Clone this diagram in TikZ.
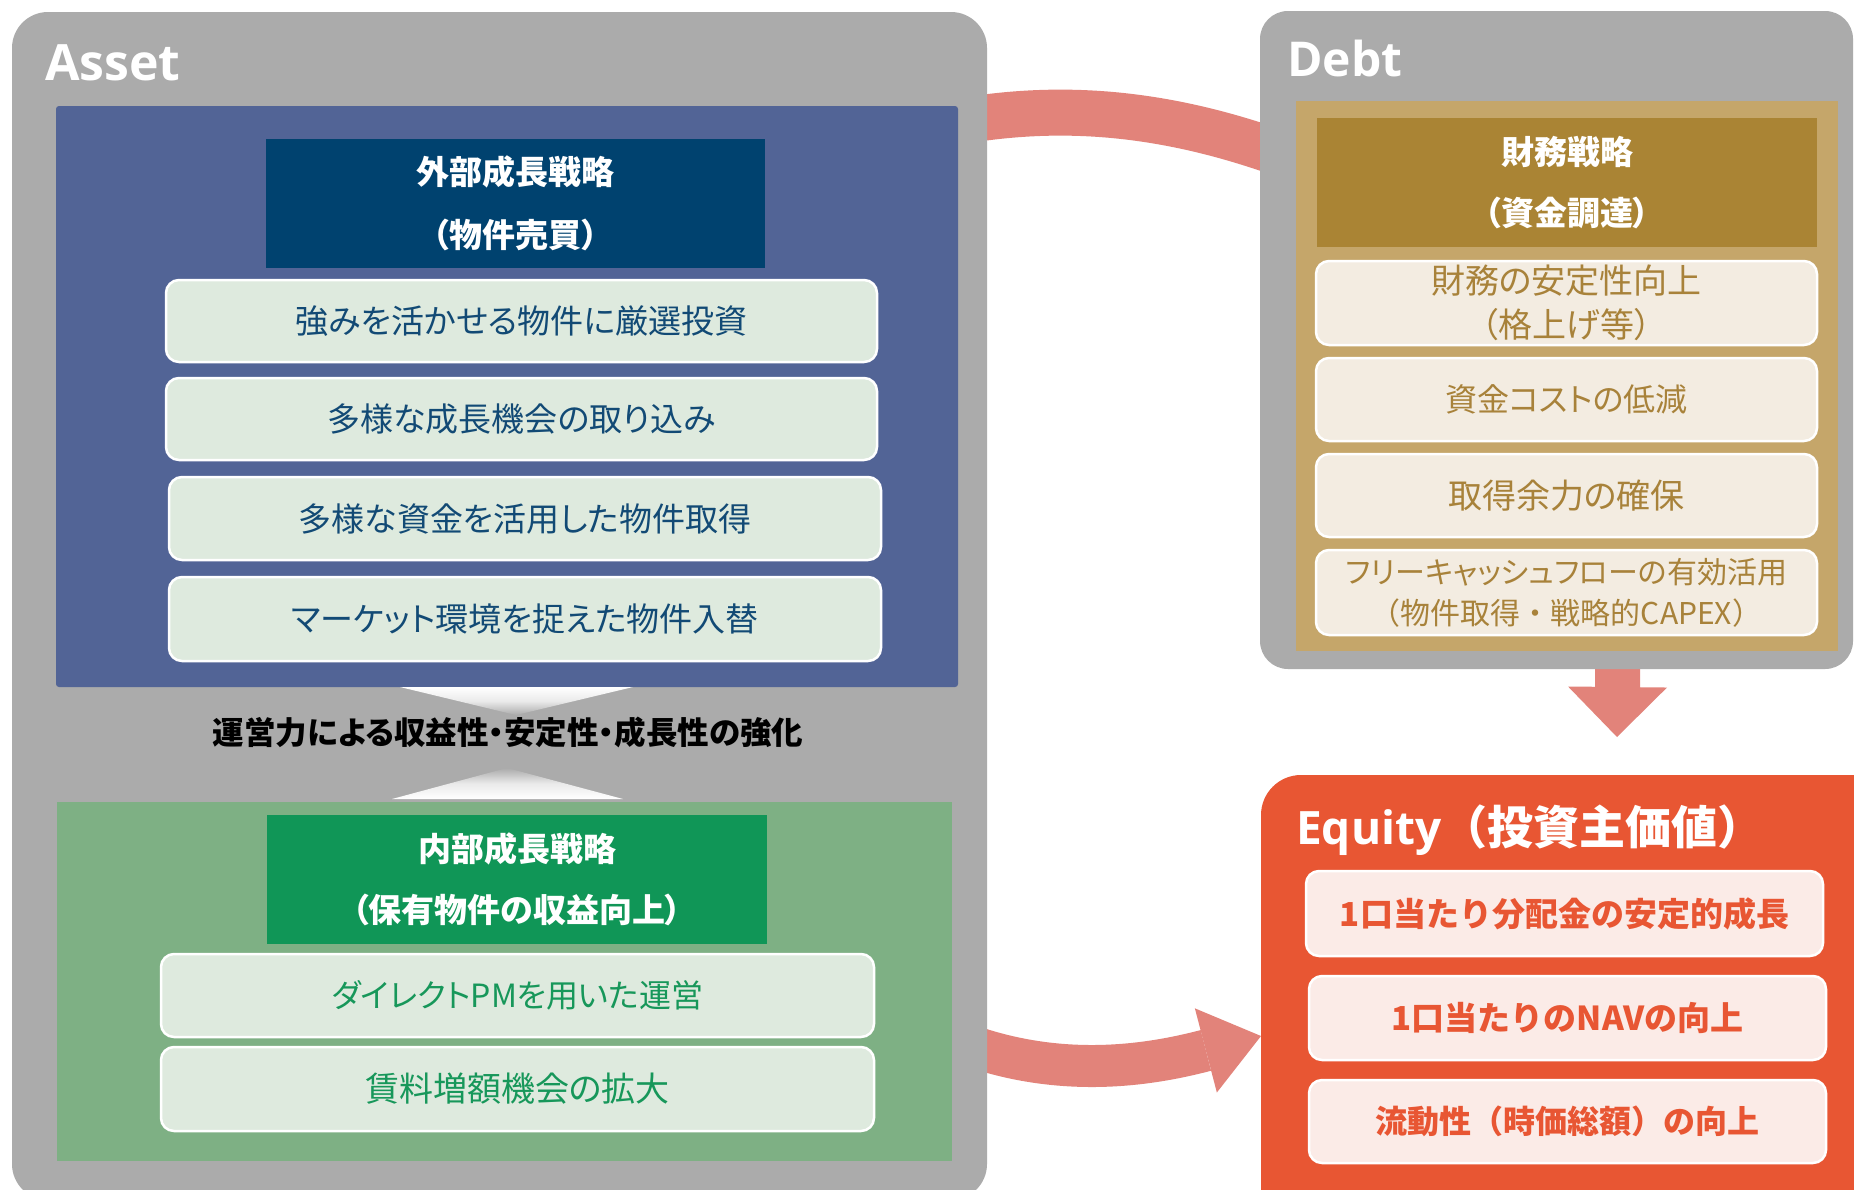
\documentclass[tikz,border=0pt]{standalone}
\usepackage{fontspec}
\setmainfont{Noto Sans CJK JP}[RawFeature={+palt}]
\newfontfamily\jpfull{Noto Sans CJK JP}
\newfontfamily\latinfont{Open Sans}
\usetikzlibrary{arrows.meta,shadings}
\definecolor{panelgray}{HTML}{ABABAB}
\definecolor{bluebg}{HTML}{526496}
\definecolor{navyhead}{HTML}{00426F}
\definecolor{lightgreen}{HTML}{DEEADE}
\definecolor{bluetext}{HTML}{124A75}
\definecolor{greenbg}{HTML}{7EB084}
\definecolor{greenhead}{HTML}{109657}
\definecolor{greentext}{HTML}{17975A}
\definecolor{tanbg}{HTML}{C5A66A}
\definecolor{brownhead}{HTML}{AA8434}
\definecolor{debtfill}{HTML}{F3ECE1}
\definecolor{debttext}{HTML}{A8823A}
\definecolor{equitybg}{HTML}{E85633}
\definecolor{equityfill}{HTML}{FBEBE7}
\definecolor{arrowsalmon}{HTML}{E2837A}
\begin{document}
\begin{tikzpicture}[x=1pt,y=-1pt,
  bx/.style={anchor=north west, inner sep=0pt, outer sep=0pt, align=center},
  panel/.style={bx, fill=panelgray},
  itembox/.style={bx, draw=white, line width=2.5pt, rounded corners=13pt},
  headbox/.style={bx, text=white, font=\fontsize{33}{63}\selectfont\bfseries},
  regtext/.style={font=\fontsize{33}{44}\selectfont},
  boldtext/.style={font=\jpfull\fontsize{33}{40}\selectfont\bfseries},
  titletext/.style={text=white, inner sep=0pt, font=\fontsize{46}{50}\selectfont\bfseries},
  arrowband/.style={draw=arrowsalmon, line cap=butt}
]
\useasboundingbox (0,0) rectangle (1854,1189);
\fill[white] (0,0) rectangle (1854,1189);

% connectors (behind panels)
\coordinate (topstart) at (940,125);
\coordinate (topend) at (1290,157);
\coordinate (botstart) at (960,1042);
\coordinate (botend) at (1261,1036);
\coordinate (downstart) at (1618,640);
\coordinate (downend) at (1617,737);
\draw[arrowband, line width=46pt] (topstart) .. controls (1040,105) and (1150,105) .. (topend);
\draw[arrowband, line width=42pt, -{Triangle[width=87pt,length=57pt,line width=0pt]}, arrowsalmon]
  (botstart) .. controls (1060,1080) and (1150,1065) .. (botend);
\draw[arrowband, line width=45pt, -{Triangle[width=99pt,length=50pt,line width=0pt]}, arrowsalmon]
  (downstart) -- (downend);

% Asset panel
\node[panel, rounded corners=36pt, minimum width=975pt, minimum height=1188pt] (asset) at (12,12) {};
\node[titletext, anchor=base west, font=\fontsize{50}{54}\selectfont\bfseries] (assettitle) at (45,80) {\latinfont\bfseries Asset};

\node[bx, fill=bluebg, rounded corners=3pt, minimum width=902pt, minimum height=581pt] (ext) at (56,106) {};
\node[headbox, fill=navyhead, minimum width=499pt, minimum height=129pt] (exthead) at (266,139) {外部成長戦略\\（物件売買）};
\node[itembox, fill=lightgreen, text=bluetext, regtext, minimum width=711pt, minimum height=82pt] (e1) at (166,280) {強みを活かせる物件に厳選投資};
\node[itembox, fill=lightgreen, text=bluetext, regtext, minimum width=711pt, minimum height=82pt] (e2) at (166,378) {多様な成長機会の取り込み};
\node[itembox, fill=lightgreen, text=bluetext, regtext, minimum width=712pt, minimum height=83pt] (e3) at (169,477) {多様な資金を活用した物件取得};
\node[itembox, fill=lightgreen, text=bluetext, regtext, minimum width=712pt, minimum height=84pt] (e4) at (169,577) {マーケット環境を捉えた物件入替};

% chevrons
\shade[top color=white, bottom color=panelgray, middle color=white!75!panelgray] (400,687) -- (633,687) -- (516,715) -- cycle;
\shade[top color=panelgray, bottom color=white, middle color=white!75!panelgray] (507,768) -- (623,799) -- (392,799) -- cycle;
\node[inner sep=0pt, font=\fontsize{31.5}{36}\selectfont\bfseries, text=black] (midtext) at (508,732) {運営力による収益性・安定性・成長性の強化};

\node[bx, fill=greenbg, minimum width=895pt, minimum height=359pt] (int) at (57,802) {};
\node[headbox, fill=greenhead, minimum width=500pt, minimum height=129pt, font=\fontsize{33}{61}\selectfont\bfseries] (inthead) at (267,815) {内部成長戦略\\（保有物件の収益向上）};
\node[itembox, fill=lightgreen, text=greentext, font=\fontsize{32}{44}\selectfont, minimum width=713pt, minimum height=83pt] (i1) at (161,954) {ダイレクトPMを用いた運営};
\node[itembox, fill=lightgreen, text=greentext, font=\fontsize{34}{44}\selectfont, minimum width=713pt, minimum height=84pt] (i2) at (161,1047) {賃料増額機会の拡大};

% Debt panel
\node[panel, rounded corners=28pt, minimum width=593pt, minimum height=658pt] (debt) at (1260,11) {};
\node[titletext, anchor=base west, font=\fontsize{48}{52}\selectfont\bfseries] (debttitle) at (1287,76) {\latinfont\bfseries Debt};
\node[bx, fill=tanbg, minimum width=542pt, minimum height=550pt] (fin) at (1296,101) {};
\node[headbox, fill=brownhead, minimum width=500pt, minimum height=129pt, font=\fontsize{33}{61}\selectfont\bfseries] (finhead) at (1317,118) {財務戦略\\（資金調達）};
\node[itembox, fill=debtfill, text=debttext, font=\fontsize{34}{44}\selectfont, minimum width=501pt, minimum height=84pt] (d1) at (1316,261) {財務の安定性向上\\（格上げ等）};
\node[itembox, fill=debtfill, text=debttext, font=\fontsize{32}{44}\selectfont, minimum width=501pt, minimum height=83pt] (d2) at (1316,358) {資金コストの低減};
\node[itembox, fill=debtfill, text=debttext, font=\fontsize{34}{44}\selectfont, minimum width=501pt, minimum height=83pt] (d3) at (1316,454) {取得余力の確保};
\node[itembox, fill=debtfill, text=debttext, font=\fontsize{30}{41}\selectfont, minimum width=501pt, minimum height=85pt] (d4) at (1316,550) {フリーキャッシュフローの有効活用\\{\jpfull （物件取得・戦略的CAPEX）}};

% Equity panel
\node[bx, fill=equitybg, rounded corners=40pt, minimum width=700pt, minimum height=500pt] (equity) at (1261,775) {};
\node[titletext, anchor=base west] (equitytitle) at (1296,844) {{\latinfont\bfseries Equity}{\jpfull\bfseries （投資主価値）}};
\node[itembox, fill=equityfill, text=equitybg, boldtext, minimum width=517pt, minimum height=85pt] (q1) at (1306,871) {1口当たり分配金の安定的成長};
\node[itembox, fill=equityfill, text=equitybg, boldtext, minimum width=517pt, minimum height=84pt] (q2) at (1309,976) {1口当たりのNAVの向上};
\node[itembox, fill=equityfill, text=equitybg, boldtext, font=\jpfull\fontsize{32}{40}\selectfont\bfseries, minimum width=517pt, minimum height=83pt] (q3) at (1309,1080) {流動性（時価総額）の向上};
\end{tikzpicture}
\end{document}
